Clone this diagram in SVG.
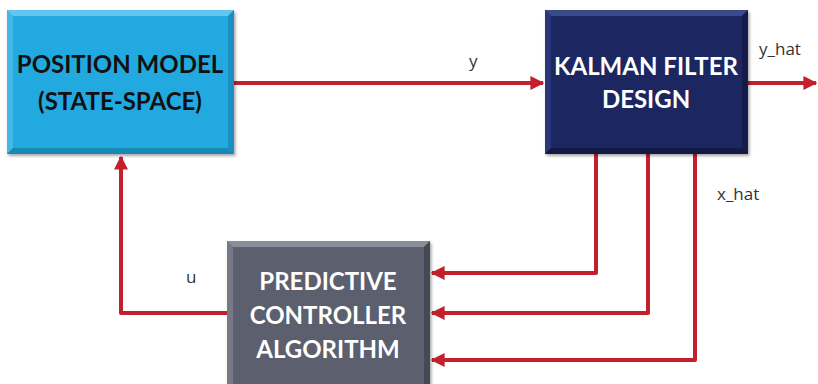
<svg xmlns="http://www.w3.org/2000/svg" width="818" height="384" viewBox="0 0 818 384">
<style>
.lbl{font-family:Lato,"Open Sans","Liberation Sans",sans-serif;font-weight:bold;font-size:24px;text-anchor:middle}
.sig{font-family:"Open Sans","DejaVu Sans",sans-serif;font-size:17px;fill:#333}
.wire{fill:none;stroke:#c4202b;stroke-width:4;stroke-linejoin:round}
</style>
<defs>
<marker id="ah" viewBox="0 0 10 10" refX="9" refY="5" markerWidth="3.5" markerHeight="3.5" orient="auto" markerUnits="strokeWidth">
<path d="M0,0 L10,5 L0,10 Z" fill="#c4202b"/>
</marker>
<filter id="sh" x="-10%" y="-10%" width="120%" height="120%">
<feDropShadow dx="1.5" dy="2" stdDeviation="1.5" flood-color="#000" flood-opacity="0.35"/>
</filter>
</defs>
<g id="connectors">
<path class="wire" d="M234,83 L543,83" marker-end="url(#ah)"/>
<path class="wire" d="M748,83 L816,83" marker-end="url(#ah)"/>
<path class="wire" d="M227,313 L121,313 L121,157" marker-end="url(#ah)"/>
<path class="wire" d="M596,154 L596,273 L432,273" marker-end="url(#ah)"/>
<path class="wire" d="M648,154 L648,313 L432,313" marker-end="url(#ah)"/>
<path class="wire" d="M695,154 L695,360 L432,360" marker-end="url(#ah)"/>
<text class="sig" x="469" y="67">y</text>
<text class="sig" x="759" y="55">y_hat</text>
<text class="sig" x="717" y="200">x_hat</text>
<text class="sig" x="186" y="283">u</text>
</g>
<g id="position-model">
<rect x="7" y="10" width="227" height="144" fill="#22a9e0" filter="url(#sh)"/>
<polygon points="7,10 234,10 228,16 13,16" fill="#62c6ef"/>
<polygon points="7,10 13,16 13,148 7,154" fill="#44b8e8"/>
<polygon points="234,10 228,16 228,148 234,154" fill="#1a8fc0"/>
<polygon points="7,154 13,148 228,148 234,154" fill="#1888b5"/>
<text class="lbl" x="120" y="73" fill="#111">POSITION MODEL</text>
<text class="lbl" x="120" y="110" fill="#111">(STATE-SPACE)</text>
</g>
<g id="kalman-filter">
<rect x="545" y="10" width="203" height="144" fill="#1c2760" filter="url(#sh)"/>
<polygon points="545,10 748,10 742,16 551,16" fill="#3a4a8a"/>
<polygon points="545,10 551,16 551,148 545,154" fill="#2a377a"/>
<polygon points="748,10 742,16 742,148 748,154" fill="#141d4a"/>
<polygon points="545,154 551,148 742,148 748,154" fill="#131b44"/>
<text class="lbl" x="646" y="75" fill="#fff">KALMAN FILTER</text>
<text class="lbl" x="646" y="108" fill="#fff">DESIGN</text>
</g>
<g id="predictive-controller">
<rect x="227" y="241" width="203" height="150" fill="#5b5f6e" filter="url(#sh)"/>
<polygon points="227,241 430,241 424,247 233,247" fill="#8a8e9a"/>
<polygon points="227,241 233,247 233,391 227,391" fill="#767a87"/>
<polygon points="430,241 424,247 424,391 430,391" fill="#454955"/>
<text class="lbl" x="328" y="290" fill="#fff">PREDICTIVE</text>
<text class="lbl" x="328" y="324" fill="#fff">CONTROLLER</text>
<text class="lbl" x="328" y="358" fill="#fff">ALGORITHM</text>
</g>
</svg>
